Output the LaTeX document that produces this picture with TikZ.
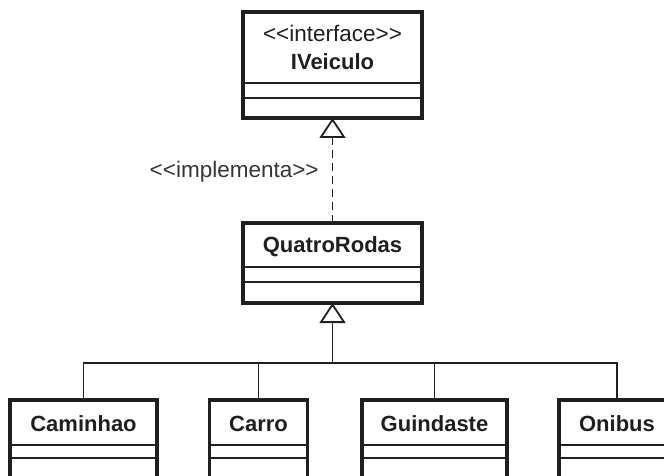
\documentclass[tikz,border=0pt]{standalone}
\usepackage{fontspec}
\setmainfont{Liberation Sans}
\usepackage{tikz}
\usetikzlibrary{arrows.meta,positioning,fit}
\definecolor{ink}{gray}{0.12}
\tikzstyle{classname} = [draw=ink, rectangle, line width=1.6pt, outer sep=0pt, inner sep=0pt,
    text=ink, font=\bfseries\fontsize{22}{27}\selectfont, align=center]
\tikzstyle{classpart} = [draw=ink, rectangle, line width=1.6pt, outer sep=0pt, inner sep=0pt]
\tikzstyle{classframe} = [draw=ink, rectangle, line width=3.2pt, outer sep=0pt, inner sep=0pt]
\tikzstyle{stereo} = [text=ink!90, font=\mdseries\fontsize{22.5}{27}\selectfont]
\tikzstyle{inherit} = [draw=ink, line width=1.8pt, -{Triangle[open,fill=white,length=20pt,width=26pt,line width=1.8pt]}]
\tikzstyle{realize} = [inherit, dash pattern=on 8pt off 5pt]
\tikzstyle{branch} = [draw=ink, line width=1.8pt]

\begin{document}
\begin{tikzpicture}[x=1pt, y=-1pt]
    \useasboundingbox (0,0) rectangle (664,476);
    \clip (0,0) rectangle (664,476);

    % interface
    \node (veiculoname) [classname, minimum width=179, minimum height=71] at (332.5,47.5)
        {{\mdseries\fontsize{22.5}{27}\selectfont <{}<interface>{}>}\\[1pt]IVeiculo};
    \node (veiculoattr) [classpart, minimum width=179, minimum height=15, below=0pt of veiculoname] {};
    \node (veiculoops) [classpart, minimum width=179, minimum height=20, below=0pt of veiculoattr] {};
    \node (veiculo) [classframe, fit=(veiculoname)(veiculoops)] {};

    % abstract class
    \node (quatroname) [classname, minimum width=179, minimum height=44, text height=19pt] at (332.5,245) {QuatroRodas};
    \node (quatroattr) [classpart, minimum width=179, minimum height=15, below=0pt of quatroname] {};
    \node (quatroops) [classpart, minimum width=179, minimum height=21, below=0pt of quatroattr] {};
    \node (quatro) [classframe, fit=(quatroname)(quatroops)] {};

    % concrete classes
    \foreach \name/\label/\x/\w in {caminhao/Caminhao/83.5/147, carro/Carro/258.5/98,
                                    guindaste/Guindaste/434.5/145, onibus/Onibus/617/116} {
        \node (\name name) [classname, minimum width=\w, minimum height=45, text height=19pt] at (\x,422.5) {\label};
        \node (\name attr) [classpart, minimum width=\w, minimum height=13, below=0pt of \name name] {};
        \node (\name ops) [classpart, minimum width=\w, minimum height=40, below=0pt of \name attr] {};
        \node (\name) [classframe, fit=(\name name)(\name ops)] {};
    }

    \coordinate (bar) at (332.5,363);

    \draw [realize] (quatro) -- node [stereo, left=13pt, inner sep=0pt, pos=0.49] {<{}<implementa>{}>} (veiculo);
    \draw [inherit] (bar) -- (quatro);
    \foreach \name in {caminhao, carro, guindaste, onibus}
        \draw [branch] (\name.north) |- (bar);
\end{tikzpicture}
\end{document}
